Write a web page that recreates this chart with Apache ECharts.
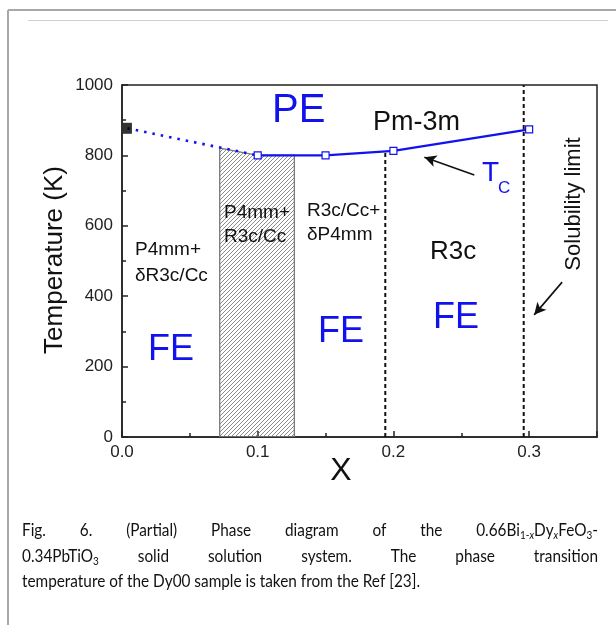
<!DOCTYPE html>
<html><head><meta charset="utf-8">
<script src="https://cdn.jsdelivr.net/npm/echarts/dist/echarts.min.js"></script>
<style>html,body{margin:0;padding:0;background:#fff}#c{width:616px;height:625px}</style>
</head><body><div id="c"></div>
<script>
// ---------- data ----------
const refX = [0.004];            // Dy00 sample (from Ref [23])
const refT = [877];
const dottedX = [0.004, 0.1];     // dotted Tc extrapolation
const dottedT = [877, 800];
const tcX = [0.1, 0.15, 0.2, 0.3];
const tcT = [800, 800, 813, 874];
const hatchX = [0.072, 0.1, 0.127];   // two-phase (hatched) region
const hatchTop = [821, 800, 800];
const boundaryX = [0.194, 0.296];     // dashed phase boundaries
const boundaryTop = [812, 1000];
const tcArrow = [[0.2596, 744], [0.2228, 795]];
const solArrow = [[0.3243, 440], [0.3037, 347]];
const xTickLabels = ['0.0', '0.1', '0.2', '0.3'];
const yTickLabels = ['0', '200', '400', '600', '800', '1000'];

// ---------- styles ----------
const BLUE = '#1212ee';
const AX = '#222';
const F = 'Liberation Sans, Arial, sans-serif';

const pc = document.createElement('canvas'); pc.width = 4; pc.height = 4;
const g = pc.getContext('2d'); g.strokeStyle = '#777'; g.lineWidth = 0.85;
g.beginPath(); g.moveTo(0, 4); g.lineTo(4, 0); g.moveTo(-1, 1); g.lineTo(1, -1); g.moveTo(3, 5); g.lineTo(5, 3); g.stroke();

const chart = echarts.init(document.getElementById('c'), null, {renderer: 'canvas'});

function txt(text, x, y, size, color, opts) {
  return Object.assign({type: 'text', x: x, y: y, z: 50, silent: true,
    style: {text: text, font: size + 'px ' + F, fill: color || '#111', align: 'left', verticalAlign: 'middle'}}, opts || {});
}

// ---------- caption (justified) ----------
const capLines = [
  [[['Fig.', 'n']], [['6.', 'n']], [['(Partial)', 'n']], [['Phase', 'n']], [['diagram', 'n']], [['of', 'n']], [['the', 'n']],
   [['0.66Bi', 'n'], ['1-', 's'], ['x', 'si'], ['Dy', 'n'], ['x', 'si'], ['FeO', 'n'], ['3', 's'], ['-', 'n']]],
  [[['0.34PbTiO', 'n'], ['3', 's']], [['solid', 'n']], [['solution', 'n']], [['system.', 'n']], [['The', 'n']], [['phase', 'n']], [['transition', 'n']]],
  [[['temperature', 'n']], [['of', 'n']], [['the', 'n']], [['Dy00', 'n']], [['sample', 'n']], [['is', 'n']], [['taken', 'n']], [['from', 'n']], [['the', 'n']], [['Ref', 'n']], [['[23].', 'n']]]
];
const capFam = 'Lato, "Open Sans", sans-serif';
const capSize = 18;
const mc = document.createElement('canvas').getContext('2d');
function segFont(kind) {
  const s = kind === 'n' ? capSize : capSize * 0.65;
  return (kind === 'si' ? 'italic ' : '') + s.toFixed(2) + 'px ' + capFam;
}
function rawW(seg) { mc.font = segFont(seg[1]); return mc.measureText(seg[0]).width; }
mc.font = capSize + 'px ' + capFam;
const rawSp = mc.measureText(' ').width;
let capScale = 1;
(function () {
  const ws = capLines[2].map(w => w.reduce((a, s) => a + rawW(s), 0));
  const tot = ws.reduce((a, b) => a + b, 0) + rawSp * (ws.length - 1);
  capScale = 398 / tot;
})();
function segW(seg) { return rawW(seg) * capScale; }
function wordW(word) { return word.reduce((a, s) => a + segW(s), 0); }
const capBase = [537, 563, 588];
const capLeft = 22, capRight = 598;
const capEls = [];
capLines.forEach((line, li) => {
  const ws = line.map(w => wordW(w));
  const total = ws.reduce((a, b) => a + b, 0);
  const gap = li < 2 ? (capRight - capLeft - total) / (line.length - 1) : rawSp * capScale;
  let x = capLeft;
  line.forEach((word, wi) => {
    let sx = x;
    word.forEach(seg => {
      const sub = seg[1] !== 'n';
      const font = segFont(seg[1]);
      mc.font = font;
      const m = mc.measureText('Hg');
      const size = sub ? capSize * 0.65 : capSize;
      const asc = m.fontBoundingBoxAscent !== undefined ? m.fontBoundingBoxAscent : size * 0.8;
      const desc = m.fontBoundingBoxDescent !== undefined ? m.fontBoundingBoxDescent : size * 0.2;
      const base = capBase[li] + (sub ? capSize * 0.2 : 0);
      capEls.push({type: 'text', x: sx, y: base - (asc - desc) / 2, scaleX: capScale, z: 50, silent: true,
        style: {text: seg[0], font: font, fill: '#111', align: 'left', verticalAlign: 'middle'}});
      sx += segW(seg);
    });
    x += ws[wi] + gap;
  });
});

const option = {
  animation: false,
  backgroundColor: '#fff',
  grid: {left: 122, top: 85, width: 475, height: 352, show: true, borderColor: AX, borderWidth: 1.5, backgroundColor: 'transparent', outerBoundsMode: 'none', containLabel: false},
  xAxis: {
    type: 'value', min: 0, max: 0.35, interval: 0.1,
    axisLine: {show: true, onZero: false, lineStyle: {color: AX, width: 1.5}},
    axisTick: {show: true, inside: true, length: 6, lineStyle: {color: AX, width: 1.5}},
    minorTick: {show: true, splitNumber: 2, length: 4, lineStyle: {color: AX, width: 1.5}},
    splitLine: {show: false}, minorSplitLine: {show: false},
    axisLabel: {show: true, margin: 7, showMaxLabel: false, color: '#222', fontFamily: F, fontSize: 17,
      formatter: v => { const i = Math.round(v * 10); return (Math.abs(v * 10 - i) < 1e-6 && xTickLabels[i] !== undefined) ? xTickLabels[i] : ''; }}
  },
  yAxis: {
    type: 'value', min: 0, max: 1000, interval: 200,
    axisLine: {show: true, onZero: false, lineStyle: {color: AX, width: 1.5}},
    axisTick: {show: true, inside: true, length: 6, lineStyle: {color: AX, width: 1.5}},
    minorTick: {show: true, splitNumber: 2, length: 4, lineStyle: {color: AX, width: 1.5}},
    splitLine: {show: false}, minorSplitLine: {show: false},
    axisLabel: {show: true, margin: 9, color: '#222', fontFamily: F, fontSize: 17,
      formatter: v => yTickLabels[Math.round(v / 200)] || ''}
  },
  series: [
    {
      type: 'custom', z: 1, clip: true, silent: true,
      data: [[hatchX[0], 0]], encode: {x: 0, y: 1},
      renderItem: function (params, api) {
        const pts = [api.coord([hatchX[0], 0])];
        hatchX.forEach((x, i) => pts.push(api.coord([x, hatchTop[i]])));
        pts.push(api.coord([hatchX[hatchX.length - 1], 0]));
        return {type: 'polygon', shape: {points: pts}, style: {fill: {image: pc, repeat: 'repeat'}, stroke: '#7a7a7a', lineWidth: 1.3}};
      }
    },
    ...boundaryX.map((x, i) => ({
      type: 'line', z: 3, silent: true, symbol: 'none',
      data: [[x, 0], [x, boundaryTop[i]]],
      lineStyle: {color: '#111', width: 2, type: [4, 3]}
    })),
    {
      type: 'line', z: 4, silent: true, symbol: 'none',
      data: dottedX.map((x, i) => [x, dottedT[i]]),
      lineStyle: {color: BLUE, width: 2.6, type: [2.5, 6]}
    },
    {
      type: 'line', z: 5, silent: true, symbol: 'rect', symbolSize: 7, showAllSymbol: true,
      data: tcX.map((x, i) => [x, tcT[i]]),
      lineStyle: {color: BLUE, width: 2.2},
      itemStyle: {color: '#fff', borderColor: BLUE, borderWidth: 1.2},
      markLine: {
        silent: true, symbol: ['none', 'arrow'], symbolSize: [9, 12], precision: 4,
        label: {show: false}, lineStyle: {color: '#111', width: 1.6, type: 'solid'},
        data: [
          [{coord: tcArrow[0]}, {coord: tcArrow[1]}],
          [{coord: solArrow[0]}, {coord: solArrow[1]}]
        ]
      }
    },
    {
      type: 'scatter', z: 6, silent: true, symbol: 'rect', symbolSize: [9, 11],
      data: refX.map((x, i) => [x, refT[i]]),
      itemStyle: {color: '#000'}
    }
  ],
  graphic: [
    {type: 'line', z: 40, silent: true, shape: {x1: 8, y1: 10, x2: 8, y2: 625}, style: {stroke: '#a8a8a8', lineWidth: 2}},
    {type: 'line', z: 40, silent: true, shape: {x1: 8, y1: 10, x2: 616, y2: 10}, style: {stroke: '#a8a8a8', lineWidth: 2}},
    {type: 'line', z: 40, silent: true, shape: {x1: 28, y1: 20.5, x2: 608, y2: 20.5}, style: {stroke: '#cfcfcf', lineWidth: 1}},
    txt('PE', 272, 111, 40, BLUE),
    txt('Pm-3m', 373, 123, 27, '#111'),
    txt('T', 482, 173, 28, BLUE),
    txt('C', 498, 188, 17, BLUE),
    txt('P4mm+', 135, 250, 19, '#111'),
    txt('δR3c/Cc', 135, 276, 19, '#111'),
    txt('P4mm+', 224, 213, 19, '#111'),
    txt('R3c/Cc', 224, 237, 19, '#111'),
    txt('R3c/Cc+', 307, 211, 19, '#111'),
    txt('δP4mm', 307, 235, 19, '#111'),
    txt('R3c', 430, 252, 26, '#111'),
    txt('FE', 148, 350, 36, BLUE),
    txt('FE', 318, 332, 36, BLUE),
    txt('FE', 433, 318, 36, BLUE),
    {type: 'text', x: 574, y: 204, rotation: Math.PI / 2, z: 50, silent: true,
      style: {text: 'Solubility limit', font: '22px ' + F, fill: '#111', align: 'center', verticalAlign: 'middle'}},
    {type: 'text', x: 55, y: 260, rotation: Math.PI / 2, z: 50, silent: true,
      style: {text: 'Temperature (K)', font: '26px ' + F, fill: '#111', align: 'center', verticalAlign: 'middle'}},
    {type: 'text', x: 341, y: 471, z: 50, silent: true,
      style: {text: 'X', font: '32px ' + F, fill: '#111', align: 'center', verticalAlign: 'middle'}},
    ...capEls
  ]
};
chart.setOption(option);
</script>
</body></html>
